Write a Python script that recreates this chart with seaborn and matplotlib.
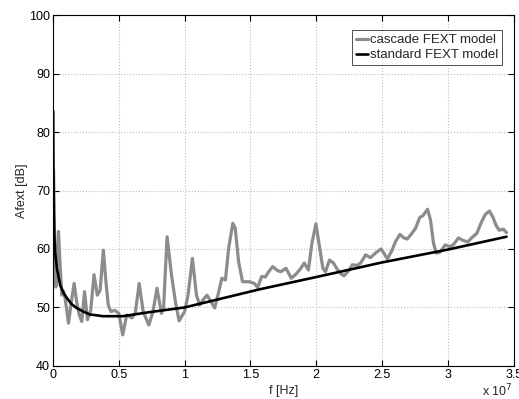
import numpy as np
import pandas as pd
import matplotlib
matplotlib.use("Agg")
import matplotlib.pyplot as plt
import seaborn as sns
from matplotlib.ticker import FuncFormatter, MultipleLocator

# cascade FEXT model, f in units of 1e7 Hz
cascade_f = [0.005, 0.012, 0.022, 0.03, 0.042, 0.055, 0.068, 0.08, 0.093, 0.118,
             0.14, 0.161, 0.18, 0.2, 0.219, 0.24, 0.262, 0.287, 0.312, 0.337,
             0.358, 0.383, 0.4, 0.42, 0.44, 0.47, 0.5, 0.53, 0.56, 0.6,
             0.625, 0.655, 0.685, 0.728, 0.76, 0.79, 0.824, 0.84, 0.867, 0.9,
             0.93, 0.958, 1.0, 1.026, 1.059, 1.09, 1.114, 1.14, 1.17, 1.2,
             1.228, 1.253, 1.283, 1.31, 1.334, 1.366, 1.384, 1.41, 1.44, 1.49,
             1.53, 1.555, 1.585, 1.613, 1.638, 1.669, 1.706, 1.73, 1.77, 1.81,
             1.846, 1.883, 1.908, 1.94, 1.967, 1.997, 2.02, 2.05, 2.07, 2.1,
             2.13, 2.16, 2.186, 2.21, 2.25, 2.274, 2.31, 2.337, 2.375, 2.41,
             2.45, 2.49, 2.513, 2.54, 2.576, 2.6, 2.635, 2.665, 2.69, 2.72,
             2.753, 2.786, 2.81, 2.845, 2.867, 2.89, 2.91, 2.937, 2.98, 3.01,
             3.04, 3.08, 3.11, 3.15, 3.18, 3.22, 3.25, 3.283, 3.315, 3.34,
             3.366, 3.39, 3.42, 3.445]
cascade_a = [73.5, 62.0, 53.5, 57.0, 63.0, 57.0, 52.1, 52.8, 51.5, 47.3,
             51.0, 54.1, 51.0, 48.7, 47.6, 52.7, 47.9, 49.5, 55.6, 52.1,
             52.9, 59.8, 55.0, 50.4, 49.3, 49.5, 49.0, 45.3, 48.7, 48.2,
             49.0, 54.1, 49.3, 47.0, 49.3, 53.3, 49.0, 49.9, 62.1, 55.6,
             51.0, 47.7, 49.3, 52.1, 58.4, 52.1, 50.4, 51.3, 52.1, 51.0,
             49.9, 52.1, 55.0, 54.7, 60.1, 64.4, 63.6, 57.8, 54.4, 54.4,
             54.1, 53.4, 55.3, 55.2, 56.1, 57.0, 56.3, 56.1, 56.7, 55.0,
             55.7, 56.7, 57.6, 56.4, 61.0, 64.3, 61.0, 56.7, 56.1, 58.1,
             57.6, 56.5, 55.8, 55.4, 56.4, 57.3, 57.2, 57.6, 59.0, 58.5,
             59.3, 60.0, 59.3, 58.3, 59.8, 61.2, 62.5, 61.9, 61.7, 62.5,
             63.5, 65.4, 65.7, 66.8, 65.0, 61.0, 59.3, 59.4, 60.7, 60.4,
             60.7, 61.9, 61.5, 61.2, 61.9, 62.7, 64.4, 65.9, 66.5, 65.5,
             64.0, 63.2, 63.4, 62.8]

# standard FEXT model
standard_f = [0.002, 0.004, 0.007, 0.011, 0.017, 0.03, 0.055, 0.08, 0.106, 0.14,
              0.18, 0.23, 0.28, 0.38, 0.53, 0.736, 1.0, 1.24, 1.57, 2.0,
              2.5, 3.0, 3.445]
standard_a = [83.6, 73.0, 66.0, 62.0, 59.3, 56.7, 53.8, 52.5, 51.6, 50.6,
              49.9, 49.3, 48.8, 48.5, 48.5, 49.2, 50.0, 51.3, 53.1, 55.2,
              57.7, 59.9, 62.1]

df_c = pd.DataFrame({"f": np.array(cascade_f) * 1e7, "a": cascade_a})
df_s = pd.DataFrame({"f": np.array(standard_f) * 1e7, "a": standard_a})

sns.set_style("ticks")
plt.rcParams["font.family"] = ["Liberation Sans", "DejaVu Sans"]

fig = plt.figure(figsize=(5.19, 3.99), dpi=100)
ax = fig.add_axes([0.102, 0.083, 0.888, 0.879])

sns.lineplot(data=df_c, x="f", y="a", color="#8c8c8c", linewidth=2.3,
             sort=False, estimator=None, ax=ax, label="cascade FEXT model",
             solid_joinstyle="round")
sns.lineplot(data=df_s, x="f", y="a", color="black", linewidth=1.9,
             sort=False, estimator=None, ax=ax, label="standard FEXT model",
             solid_joinstyle="round")

ax.set_xlim(0, 3.5e7)
ax.set_ylim(40, 100)
ax.xaxis.set_major_locator(MultipleLocator(0.5e7))
ax.yaxis.set_major_locator(MultipleLocator(10))
ax.xaxis.set_major_formatter(FuncFormatter(lambda v, p: f"{v / 1e7:g}"))
ax.grid(True, linestyle=":", color="#bdbdbd", linewidth=0.8)
for s in ax.spines.values():
    s.set_color("black")
    s.set_linewidth(0.8)
ax.tick_params(direction="in", length=4, width=0.8, top=True, right=True,
               labelsize=9, pad=2, colors="black")

ax.set_xlabel("f [Hz]", fontsize=9, labelpad=3)
ax.set_ylabel("Afext [dB]", fontsize=9, labelpad=1)
fig.text(513 / 519, 3 / 399, r"x 10$^{7}$", ha="right", va="baseline",
         fontsize=9)

leg = ax.legend(loc="upper right", fontsize=9.5, frameon=True, fancybox=False,
                borderpad=0.3, handlelength=0.9, handletextpad=0.15,
                labelspacing=0.2, borderaxespad=0,
                bbox_to_anchor=(0.974, 0.957))
leg.get_frame().set_edgecolor("black")
leg.get_frame().set_linewidth(0.6)

fig.savefig("out.png", dpi=100)
